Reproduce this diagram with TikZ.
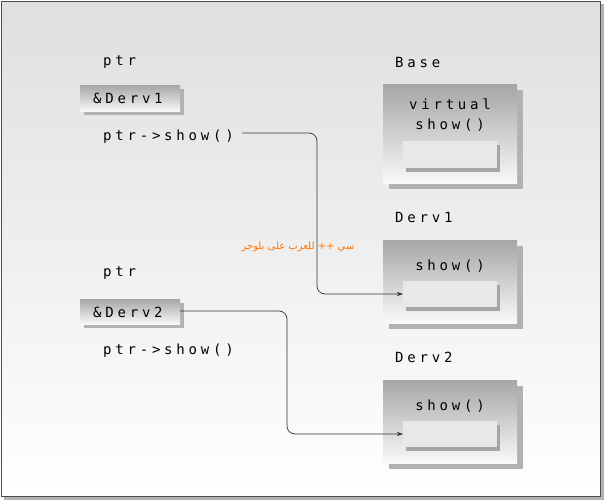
\documentclass[tikz,border=0pt]{standalone}
\usepackage{fontspec}
\newfontfamily\mono[LetterSpace=27]{DejaVu Sans Mono}
\newfontfamily\arabicfont[Script=Arabic]{DejaVu Sans}
\TeXXeTstate=1
\usetikzlibrary{arrows.meta}
\begin{document}
\begin{tikzpicture}[x=1pt,y=-1pt,
  lbl/.style={font=\mono\fontsize{14}{16}\selectfont,anchor=west,inner sep=0},
  shade box/.style={top color=gray!70,bottom color=gray!5,draw=none},
  conn/.style={draw=black!80,line width=0.7pt,rounded corners=8pt,-{Stealth[length=6pt,width=4pt]}}]
\useasboundingbox (0,0) rectangle (605,501);
\fill[gray!60] (4,4) rectangle (604,500);
\shade[top color=gray!25,bottom color=white] (1,1) rectangle (600,496);
\draw[gray!60!black,line width=0.8pt] (1,1) rectangle (600,496);
% big boxes
\foreach \ya/\yb/\ia/\ib/\nm in {84/183/141/168/base,240/323/281/307/dA,380/463/421/447/dB}{
  \fill[gray!60] (389,\ya+6) rectangle (523,\yb+6);
  \shade[shade box] (383,\ya) rectangle (517,\yb);
  \fill[gray!70] (406,\ia+4) rectangle (500,\ib+4);
  \fill[gray!18] (403,\ia) rectangle (497,\ib);
}
\coordinate (d1in) at (403,294);
\coordinate (d2in) at (403,434);
\node[font=\mono\fontsize{14}{20}\selectfont,align=center] (virt) at (450,115) {virtual\\show()};
\node[font=\mono\fontsize{14}{16}\selectfont] (s1) at (450,266) {show()};
\node[font=\mono\fontsize{14}{16}\selectfont] (s2) at (450,406) {show()};
\node[lbl] (lbase) at (395,62) {Base};
\node[lbl] (ld1) at (395,217) {Derv1};
\node[lbl] (ld2) at (395,357) {Derv2};
% left
\node[lbl] (p1) at (103,62) {ptr};
\node[lbl] (p2) at (103,273) {ptr};
\fill[gray!60] (84,89) rectangle (184,115);
\shade[shade box] (80,85) rectangle (180,111);
\fill[gray!60] (84,303) rectangle (184,328);
\shade[shade box] (80,299) rectangle (180,324);
\node[lbl] (a1) at (93,98) {\&Derv1};
\node[lbl] (a2) at (93,312) {\&Derv2};
\coordinate (a2e) at (180,311);
\node[lbl] (c1) at (103,137) {ptr->show()};
\node[lbl] (c2) at (103,351) {ptr->show()};
\coordinate (c1e) at (242,133);
\draw[conn] (c1e) -- (317,133) -- (317,294) -- (d1in);
\draw[conn] (a2e) -- (287,311) -- (287,434) -- (d2in);
\node[font=\arabicfont\fontsize{10}{12}\selectfont,text=orange!90!red] (ar) at (298,247) {\beginR سي ++ للعرب على بلوجر\endR};
\end{tikzpicture}
\end{document}
